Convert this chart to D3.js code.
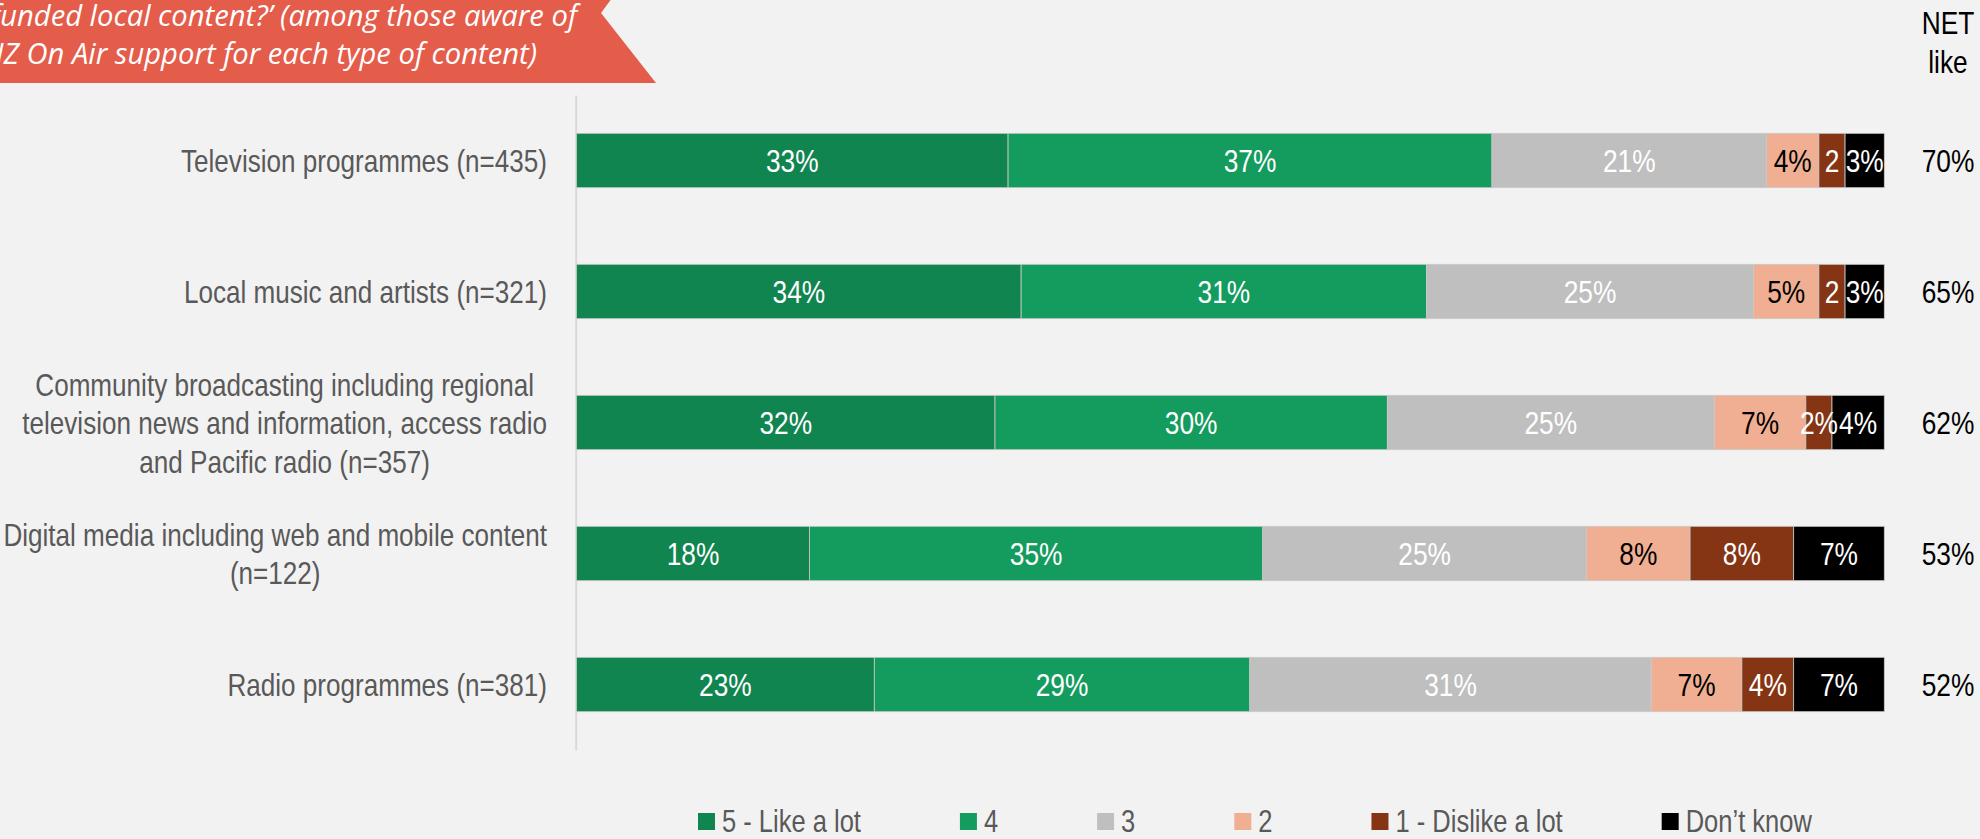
<!DOCTYPE html>
<html>
<head>
<meta charset="utf-8">
<script src="https://cdn.jsdelivr.net/npm/d3@7"></script>
<style>
  html, body { margin: 0; padding: 0; background: #F2F2F2; }
  svg { display: block; }
</style>
</head>
<body>
<svg id="chart" width="1980" height="839"></svg>
<script>
// Content types (line breaks mark where the label wraps)
const categories = [
  "Television programmes (n=435)",
  "Local music and artists (n=321)",
  "Community broadcasting including regional\ntelevision news and information, access radio\nand Pacific radio (n=357)",
  "Digital media including web and mobile content\n(n=122)",
  "Radio programmes (n=381)"
];

// Rating series, % of respondents per content type
const likeALot    = [33, 34, 32, 18, 23];
const rating4     = [37, 31, 30, 35, 29];
const rating3     = [21, 25, 25, 25, 31];
const rating2     = [4, 5, 7, 8, 7];
const dislikeALot = [2, 2, 2, 8, 4];
const dontKnow    = [3, 3, 4, 7, 7];

// Data label text on the narrow "dislike" segments
const dislikeLabels = ["2", "2", "2%", "8%", "4%"];

// NET like column
const netLike = [70, 65, 62, 53, 52];

const seriesNames = ["5 - Like a lot", "4", "3", "2", "1 - Dislike a lot", "Don\u2019t know"];
const seriesValues = [likeALot, rating4, rating3, rating2, dislikeALot, dontKnow];
const seriesColors = ["#11854F", "#149B5E", "#BFBFBF", "#F0AF92", "#853514", "#000000"];
const labelColors  = ["#FFFFFF", "#FFFFFF", "#FFFFFF", "#000000", "#FFFFFF", "#FFFFFF"];

const titleLines = [
  "funded local content?\u2019 (among those aware of",
  "NZ On Air support for each type of content)"
];

const svg = d3.select("#chart");
const SANS = "'Liberation Sans', Arial, sans-serif";
const SX = 0.823;   // horizontal condensing for the narrow chart typeface
const SX_CAT = 0.815;

// condensed text placed at (x, y) with the given anchor
function ntext(parent, x, y, str, anchor, size, fill, dy, sx) {
  const g = parent.append("g")
    .attr("transform", `translate(${x},${y}) scale(${sx || SX},1)`);
  const t = g.append("text")
    .attr("text-anchor", anchor)
    .attr("font-family", SANS)
    .attr("font-size", size)
    .attr("fill", fill)
    .attr("dy", dy || 0)
    .text(str);
  return t;
}

// ---- title ribbon ----
svg.append("path")
  .attr("d", "M0,-40 L640,-40 L601,13 L656,83 L0,83 Z")
  .attr("fill", "#E45C4A");

const titleG = svg.append("g")
  .attr("font-family", "'Open Sans', Lato, sans-serif")
  .attr("font-style", "italic")
  .attr("fill", "#FFFFFF");
// size the title so the visible run of line one spans the ribbon text area
const probe = titleG.append("text").attr("font-size", 100)
  .text(titleLines[0].slice(1));
const titleSize = 100 * 577 / probe.node().getComputedTextLength();
probe.remove();
const titleEnds = [577, 537];
const titleBase = [26, 64];
titleLines.forEach((t, i) => {
  titleG.append("text")
    .attr("x", titleEnds[i]).attr("y", titleBase[i])
    .attr("text-anchor", "end")
    .attr("font-size", titleSize)
    .text(t);
});

// ---- scales ----
const x = d3.scaleLinear().domain([0, 1]).range([576.5, 1884.3]);
const y = d3.scaleBand().domain(d3.range(categories.length))
  .range([95, 750]).paddingInner(0.585).paddingOuter(0.2925);

// category axis line
const axis = svg.append("g")
  .attr("transform", "translate(575.7,0)")
  .call(d3.axisLeft(y).tickSize(0).tickFormat(""));
axis.select(".domain").attr("stroke", "#D9D9D9").attr("stroke-width", 2);

// ---- stacked bars (each row normalised to its own total) ----
const rows = categories.map((c, i) => {
  const vals = seriesValues.map(s => s[i]);
  const total = d3.sum(vals);
  let acc = 0;
  return vals.map((v, k) => {
    const seg = { row: i, k, v, x0: acc / total, x1: (acc + v) / total };
    acc += v;
    return seg;
  });
});

const segs = rows.flat();
const barG = svg.append("g");
barG.selectAll("rect").data(segs).join("rect")
  .attr("x", d => x(d.x0))
  .attr("y", d => y(d.row))
  .attr("width", d => x(d.x1) - x(d.x0))
  .attr("height", y.bandwidth())
  .attr("fill", d => seriesColors[d.k])
  .attr("stroke", "#C9C9C9")
  .attr("stroke-width", 0.8);

const valG = svg.append("g");
segs.forEach(d => {
  ntext(valG, (x(d.x0) + x(d.x1)) / 2, y(d.row) + y.bandwidth() / 2,
    d.k === 4 ? dislikeLabels[d.row] : d.v + "%",
    "middle", 32, labelColors[d.k], "0.36em");
});

// ---- category labels (wrapped lines centred within the label block) ----
const catG = svg.append("g");
const lineH = 38.5;
categories.forEach((c, i) => {
  const lines = c.split("\n");
  const probes = lines.map(l => ntext(catG, 0, 0, l, "start", 32, "#595959", 0, SX_CAT));
  const maxW = d3.max(probes, t => t.node().getComputedTextLength()) * SX_CAT;
  probes.forEach(t => t.node().parentNode.remove());
  const cx = 547 - maxW / 2;
  lines.forEach((l, j) => {
    ntext(catG, cx,
      y(i) + y.bandwidth() / 2 + (j - (lines.length - 1) / 2) * lineH,
      l, "middle", 32, "#595959", "0.36em", SX_CAT);
  });
});

// ---- NET like column ----
const netG = svg.append("g");
ntext(netG, 1948, 34.3, "NET", "middle", 32, "#000000");
ntext(netG, 1948, 72.7, "like", "middle", 32, "#000000");
netLike.forEach((d, i) => {
  ntext(netG, 1948, y(i) + y.bandwidth() / 2, d + "%", "middle", 32, "#000000", "0.36em");
});

// ---- legend ----
const legG = svg.append("g");
let lx = 698;
seriesNames.forEach((name, k) => {
  legG.append("rect")
    .attr("x", lx).attr("y", 813)
    .attr("width", 17).attr("height", 17)
    .attr("fill", seriesColors[k]);
  const t = ntext(legG, lx + 24, 832, name, "start", 31, "#595959");
  lx += 24 + t.node().getComputedTextLength() * SX + 99;
});
</script>
</body>
</html>
